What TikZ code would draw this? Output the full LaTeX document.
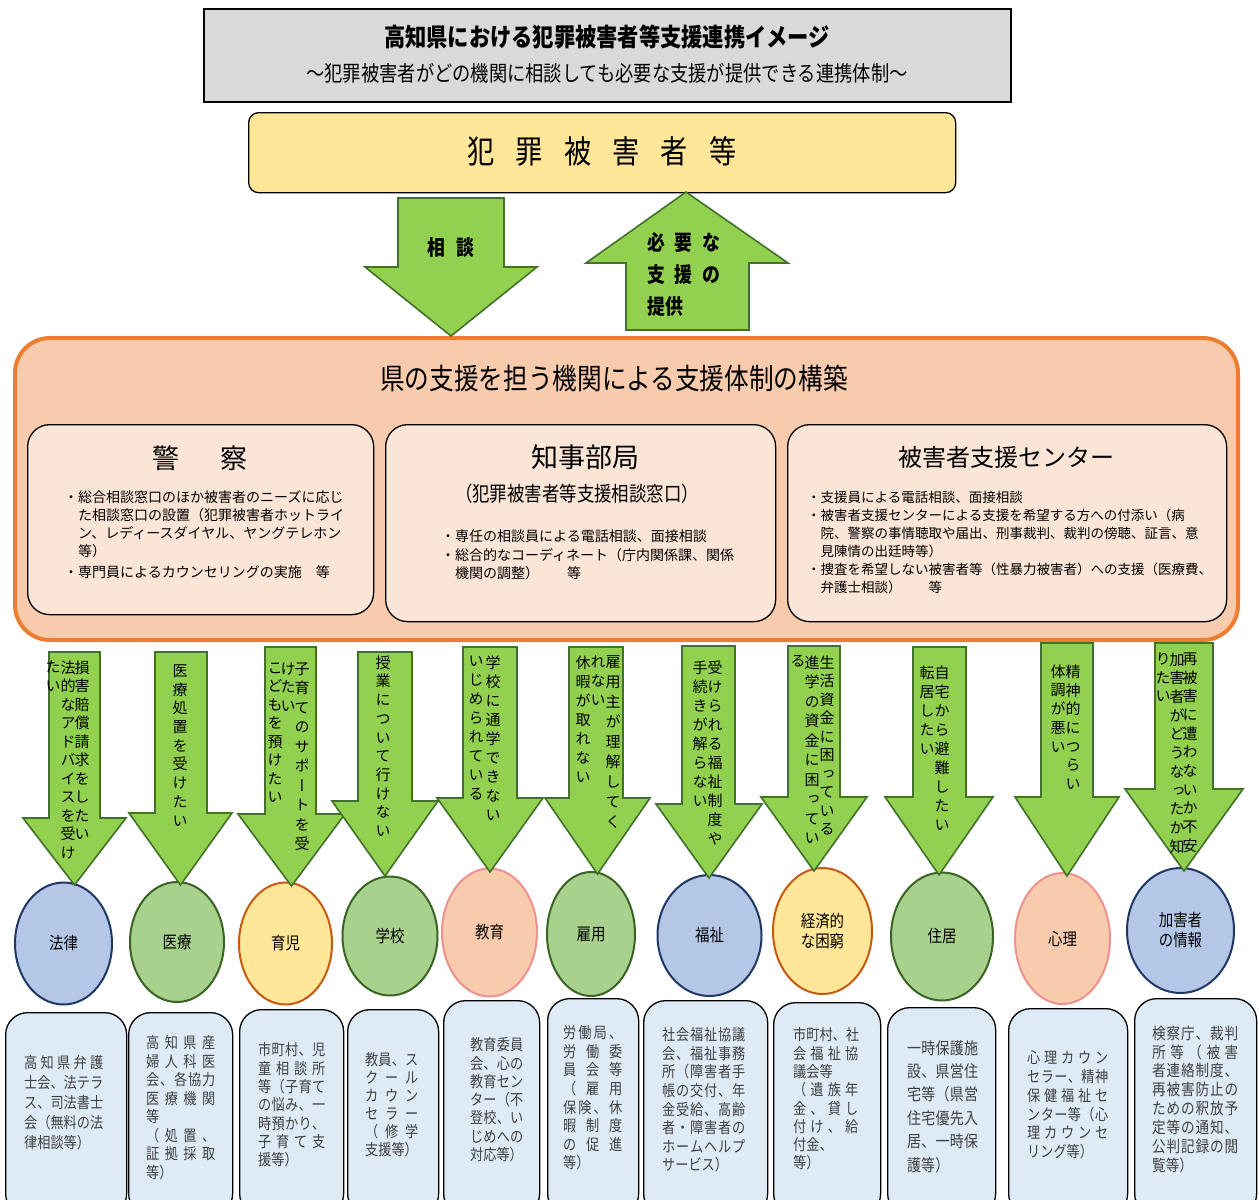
\documentclass[tikz,border=0pt]{standalone}
\usepackage{fontspec}
\setmainfont{Noto Sans CJK JP}
\newfontfamily\jp{Noto Sans CJK JP}
\newfontfamily\jpn[FakeStretch=0.85]{Noto Sans CJK JP}
\newfontfamily\jpv[RawFeature=+vert]{Noto Sans CJK JP}
\usetikzlibrary{shapes.geometric}
\ExplSyntaxOn
\NewDocumentCommand\spr{mm}{\hbox_to_wd:nn{#1}{\tl_map_inline:nn{#2}{##1\hfil}\unskip}}
\NewDocumentCommand\vt{O{19pt}m}{\vbox{\skip_set:Nn\baselineskip{#1}\dim_set:Nn\lineskiplimit{-1000pt}\tl_map_inline:nn{#2}{\hbox_to_wd:nn{1em}{\hss##1\hss}}}}
\ExplSyntaxOff
\newcommand\fsz[2]{\fontsize{#1}{#2}\selectfont}
\newcommand\bl[1]{\spr{\bw}{#1}\\}
\def\bw{70pt}
\definecolor{agreen}{HTML}{92D050}
\definecolor{agreenb}{HTML}{41712A}
\definecolor{tgray}{HTML}{D9D9D9}
\definecolor{vyellow}{HTML}{FFE699}
\definecolor{obox}{HTML}{F8CBAD}
\definecolor{oline}{HTML}{ED7D31}
\definecolor{ibox}{HTML}{FBE5D6}
\definecolor{cblue}{HTML}{B4C7E7}
\definecolor{cblueb}{HTML}{1F3864}
\definecolor{cgreen}{HTML}{A9D18E}
\definecolor{cgreenb}{HTML}{3B6323}
\definecolor{cyellowb}{HTML}{C55A11}
\definecolor{cpink}{HTML}{F8CBAD}
\definecolor{cpinkb}{HTML}{EE9191}
\definecolor{bbox}{HTML}{DEEBF7}
\definecolor{txtgray}{HTML}{404040}
\newcommand\darr[7]{\draw[barrow] (#1,#3) -- (#2,#3) -- (#2,#6) -- (#5,#6) -- ({(#4+#5)/2},#7) -- (#4,#6) -- (#1,#6) -- cycle;}
\newcommand\vcol[5]{\node[vtx] (#1) at (#2,#3-7.5) {\vt[#4pt]{#5}};}
\tikzset{
 barrow/.style={fill=agreen, draw=agreenb, line width=1.6pt, line join=miter},
 ibx/.style={draw=black, line width=1.3pt, fill=ibox, rounded corners=22pt, anchor=north west, inner sep=0},
 circ/.style={ellipse, line width=2pt, inner sep=0, font=\jpn\fsz{17}{20}, align=center},
 cb/.style={circ, fill=cblue, draw=cblueb},
 cg/.style={circ, fill=cgreen, draw=cgreenb},
 cy/.style={circ, fill=vyellow, draw=cyellowb},
 cp/.style={circ, fill=cpink, draw=cpinkb},
 bbx/.style={draw=black, line width=1.3pt, fill=bbox, rounded corners=22pt, anchor=north west, inner sep=0},
 btx/.style={anchor=north west, inner sep=0, align=left, text=txtgray, font=\jpn\fsz{15.5}{18.5}},
 vtx/.style={anchor=north, inner sep=0, font=\jpv\fsz{15}{15}},
 bul/.style={anchor=north west, inner sep=0, align=left},
}
\begin{document}
\begin{tikzpicture}[x=1pt,y=-1pt]
\fill[white] (0,0) rectangle (1259,1200);
\useasboundingbox (0,0) rectangle (1259,1200);
% title
\node[draw=black, line width=2pt, fill=tgray, minimum width=807pt, minimum height=93pt, anchor=north west, inner sep=0] (title) at (203,8) {};
\node[font=\jpn\bfseries\fsz{25}{28}] (t1) at (607,37) {高知県における犯罪被害者等支援連携イメージ};
\node[font=\jpn\fsz{21.5}{24}] (t2) at (607,73) {～犯罪被害者がどの機関に相談しても必要な支援が提供できる連携体制～};
% victims
\node[draw=black, line width=1.3pt, fill=vyellow, rounded corners=10pt, minimum width=707pt, minimum height=80pt, anchor=north west, inner sep=0] (victim) at (248,112) {};
\node[font=\jpn\fsz{32}{36}] (victimt) at (602,151) {\spr{269pt}{犯罪被害者等}};
% big orange box
\node[draw=oline, line width=4pt, fill=obox, rounded corners=35pt, minimum width=1223pt, minimum height=302pt, anchor=north west, inner sep=0] (org) at (13,336) {};
\node[font=\jpn\fsz{29}{32}] (orgt) at (614,378) {県の支援を担う機関による支援体制の構築};
% big arrows
\draw[barrow] (398,198) -- (504,198) -- (504,267) -- (537,267) -- (451,336) -- (365,267) -- (398,267) -- cycle;
\node[font=\jpn\bfseries\fsz{21}{24}] (soudan) at (451,248) {\spr{47pt}{相談}};
\draw[barrow] (686,192) -- (788,263) -- (749,263) -- (749,330) -- (626,330) -- (626,263) -- (586,263) -- cycle;
\node[bul, font=\jpn\bfseries\fsz{21}{32}] (shien) at (647,232) {\spr{73pt}{必要な}\\\spr{73pt}{支援の}\\提供};
% inner boxes
\node[ibx, minimum width=346pt, minimum height=190pt] (police) at (27,424) {};
\node[font=\jp\fsz{27}{30}] (policet) at (200,458) {\spr{96pt}{警察}};
\node[bul, font=\jp\fsz{14}{18}] (policeb) at (64,490) {・総合相談窓口のほか被害者のニーズに応じ\\　た相談窓口の設置（犯罪被害者ホットライ\\　ン、レディースダイヤル、ヤングテレホン\\　等）\\[3pt]・専門員によるカウンセリングの実施　等};
\node[ibx, minimum width=390pt, minimum height=197pt] (gov) at (385,424) {};
\node[font=\jp\fsz{27}{30}] (govt) at (585,457) {知事部局};
\node[font=\jpn\fsz{20.5}{24}] (govs) at (577,494) {（犯罪被害者等支援相談窓口）};
\node[bul, font=\jp\fsz{14}{18.5}] (govb) at (441,530) {・専任の相談員による電話相談、面接相談\\・総合的なコーディネート（庁内関係課、関係\\　機関の調整）　　等};
\node[ibx, minimum width=439pt, minimum height=197pt] (center) at (787,424) {};
\node[font=\jp\fsz{24}{28}] (centert) at (1006,457) {被害者支援センター};
\node[bul, font=\jp\fsz{13.5}{18}] (centerb) at (807,491) {・支援員による電話相談、面接相談\\・被害者支援センターによる支援を希望する方への付添い（病\\　院、警察の事情聴取や届出、刑事裁判、裁判の傍聴、証言、意\\　見陳情の出廷時等）\\・捜査を希望しない被害者等（性暴力被害者）への支援（医療費、\\　弁護士相談）　　等};
% circles
\node[cb, minimum width=97pt, minimum height=122pt] (c1) at (63.5,943.5) {法律};
\node[cg, minimum width=94pt, minimum height=120pt] (c2) at (177,942) {医療};
\node[cy, minimum width=93pt, minimum height=122pt] (c3) at (285.5,943.5) {育児};
\node[cg, minimum width=95pt, minimum height=119pt] (c4) at (390,936) {学校};
\node[cp, minimum width=95pt, minimum height=128pt] (c5) at (489.5,932.5) {教育};
\node[cg, minimum width=88pt, minimum height=124pt] (c6) at (591,934) {雇用};
\node[cb, minimum width=104pt, minimum height=121pt] (c7) at (709.5,935.5) {福祉};
\node[cy, minimum width=99pt, minimum height=126pt] (c8) at (822.5,931) {経済的\\な困窮};
\node[cg, minimum width=102pt, minimum height=128pt] (c9) at (942,936.5) {住居};
\node[cp, minimum width=95pt, minimum height=131pt] (c10) at (1062.5,938.5) {心理};
\node[cb, minimum width=107pt, minimum height=125pt] (c11) at (1180.5,930.5) {加害者\\の情報};
% small arrows
\darr{49}{100}{652}{23}{126}{818}{885}
\darr{155}{207}{652}{129}{232}{813}{885}
\darr{265}{316}{647}{238}{345}{814}{886}
\darr{358}{412}{652}{332}{438}{801}{876}
\darr{463}{517}{647}{437}{543}{798}{872}
\darr{569}{623}{647}{545}{650}{798}{874}
\darr{682}{735}{646}{656}{762}{804}{878}
\darr{788}{840}{646}{761}{867}{797}{871}
\darr{913}{966}{647}{885}{993}{797}{875}
\darr{1041}{1093}{643}{1015}{1119}{797}{876}
\darr{1155}{1213}{643}{1125}{1243}{789}{871}
% vertical texts
\vcol{v1r}{82}{668}{18.5}{損害賠償請求をしたい}
\vcol{v1m}{68}{668}{18.5}{法的なアドバイスを受け}
\vcol{v1l}{53}{668}{18.5}{たい}
\vcol{v2}{180}{672}{18.7}{医療処置を受けたい}
\vcol{v3r}{302}{670}{19.5}{子育てのサポートを受}
\vcol{v3m}{288}{670}{18.5}{けたい}
\vcol{v3l}{275}{670}{18.5}{こどもを預けたい}
\vcol{v4}{383}{663}{18.7}{授業について行けない}
\vcol{v5r}{493}{663}{19}{学校に通学できない}
\vcol{v5l}{476}{663}{19}{いじめられている}
\vcol{v6r}{613}{663}{20}{雇用主が理解してく}
\vcol{v6m}{598}{663}{19}{れない}
\vcol{v6l}{583}{663}{19}{休暇が取れない}
\vcol{v7r}{715}{668}{19}{受けられる福祉制度や}
\vcol{v7l}{700}{668}{19}{手続きが解らない}
\vcol{v8r}{827}{663}{18.5}{生活資金に困っている}
\vcol{v8m}{812}{663}{19.5}{進学の資金に困ってい}
\vcol{v8l}{798}{663}{19}{る}
\vcol{v9r}{942}{673}{19}{自宅から避難したい}
\vcol{v9l}{927}{673}{19}{転居したい}
\vcol{v10r}{1073}{672}{18.7}{精神的につらい}
\vcol{v10l}{1058}{672}{18.7}{体調が悪い}
\vcol{v11r}{1190}{660}{18.7}{再被害に遭わないか不安}
\vcol{v11m}{1177}{660}{18.7}{加害者がどうなったか知}
\vcol{v11l}{1163}{660}{18.7}{りたい}
% bottom boxes
\node[bbx, minimum width=121pt, minimum height=203pt] (b1) at (5,1012) {};
\node[bbx, minimum width=104pt, minimum height=203pt] (b2) at (128,1012) {};
\node[bbx, minimum width=104pt, minimum height=206pt] (b3) at (239,1009) {};
\node[bbx, minimum width=91pt, minimum height=206pt] (b4) at (347,1009) {};
\node[bbx, minimum width=96pt, minimum height=215pt] (b5) at (443,1000) {};
\node[bbx, minimum width=91pt, minimum height=217pt] (b6) at (547,998) {};
\node[bbx, minimum width=124pt, minimum height=215pt] (b7) at (643,1000) {};
\node[bbx, minimum width=107pt, minimum height=213pt] (b8) at (773,1002) {};
\node[bbx, minimum width=108pt, minimum height=208pt] (b9) at (887,1007) {};
\node[bbx, minimum width=119pt, minimum height=207pt] (b10) at (1008,1008) {};
\node[bbx, minimum width=122pt, minimum height=217pt] (b11) at (1134,998) {};
\def\bw{79pt}
\node[btx, font=\jpn\fsz{15.5}{20}] (bt1) at (24,1055.5) {\bl{高知県弁護}\bl{士会、法テラ}\bl{ス、司法書士}\bl{会（無料の法}律相談等）};
\def\bw{69pt}
\node[btx] (bt2) at (146,1035.5) {\bl{高知県産}\bl{婦人科医}\bl{会、各協力}\bl{医療機関}等\\\bl{（処置、}\bl{証拠採取}等）};
\def\bw{67pt}
\node[btx, font=\jpn\fsz{15.5}{18.3}] (bt3) at (258,1042.5) {\bl{市町村、児}\bl{童相談所}\bl{等（子育て}\bl{の悩み、一}\bl{時預かり、}\bl{子育て支}援等）};
\def\bw{53pt}
\node[btx, font=\jpn\fsz{15.5}{18}] (bt4) at (365,1052.5) {\bl{教員、ス}\bl{クール}\bl{カウン}\bl{セラー}\bl{（修学}支援等）};
\def\bw{53pt}
\node[btx, font=\jpn\fsz{15.5}{18.3}] (bt5) at (470,1037.5) {\bl{教育委員}\bl{会、心の}\bl{教育セン}\bl{ター（不}\bl{登校、い}\bl{じめへの}対応等）};
\def\bw{59pt}
\node[btx, font=\jpn\fsz{15.5}{18.6}] (bt6) at (563,1025.5) {\bl{労働局、}\bl{労働委}\bl{員会等}\bl{（雇用}\bl{保険、休}\bl{暇制度}\bl{の促進}等）};
\def\bw{83pt}
\node[btx, font=\jpn\fsz{15.5}{18.6}] (bt7) at (662,1027.5) {\bl{社会福祉協議}\bl{会、福祉事務}\bl{所（障害者手}\bl{帳の交付、年}\bl{金受給、高齢}\bl{者・障害者の}\bl{ホームヘルプ}サービス）};
\def\bw{65pt}
\node[btx, font=\jpn\fsz{15.5}{18.3}] (bt8) at (793,1027.5) {\bl{市町村、社}\bl{会福祉協}議会等\\\bl{（遺族年}\bl{金、貸し}\bl{付け、給}付金、\\等）};
\def\bw{71pt}
\node[btx, font=\jpn\fsz{16.5}{23.4}] (bt9) at (907,1040) {\bl{一時保護施}\bl{設、県営住}\bl{宅等（県営}\bl{住宅優先入}\bl{居、一時保}護等）};
\def\bw{81pt}
\node[btx, font=\jpn\fsz{15.5}{18.8}] (bt10) at (1027,1050.5) {\bl{心理カウン}\bl{セラー、精神}\bl{保健福祉セ}\bl{ンター等（心}\bl{理カウンセ}リング等）};
\def\bw{86pt}
\node[btx, font=\jpn\fsz{16}{18.9}] (bt11) at (1152,1025.5) {\bl{検察庁、裁判}\bl{所等（被害}\bl{者連絡制度、}\bl{再被害防止の}\bl{ための釈放予}\bl{定等の通知、}\bl{公判記録の閲}覧等）};
\end{tikzpicture}
\end{document}
